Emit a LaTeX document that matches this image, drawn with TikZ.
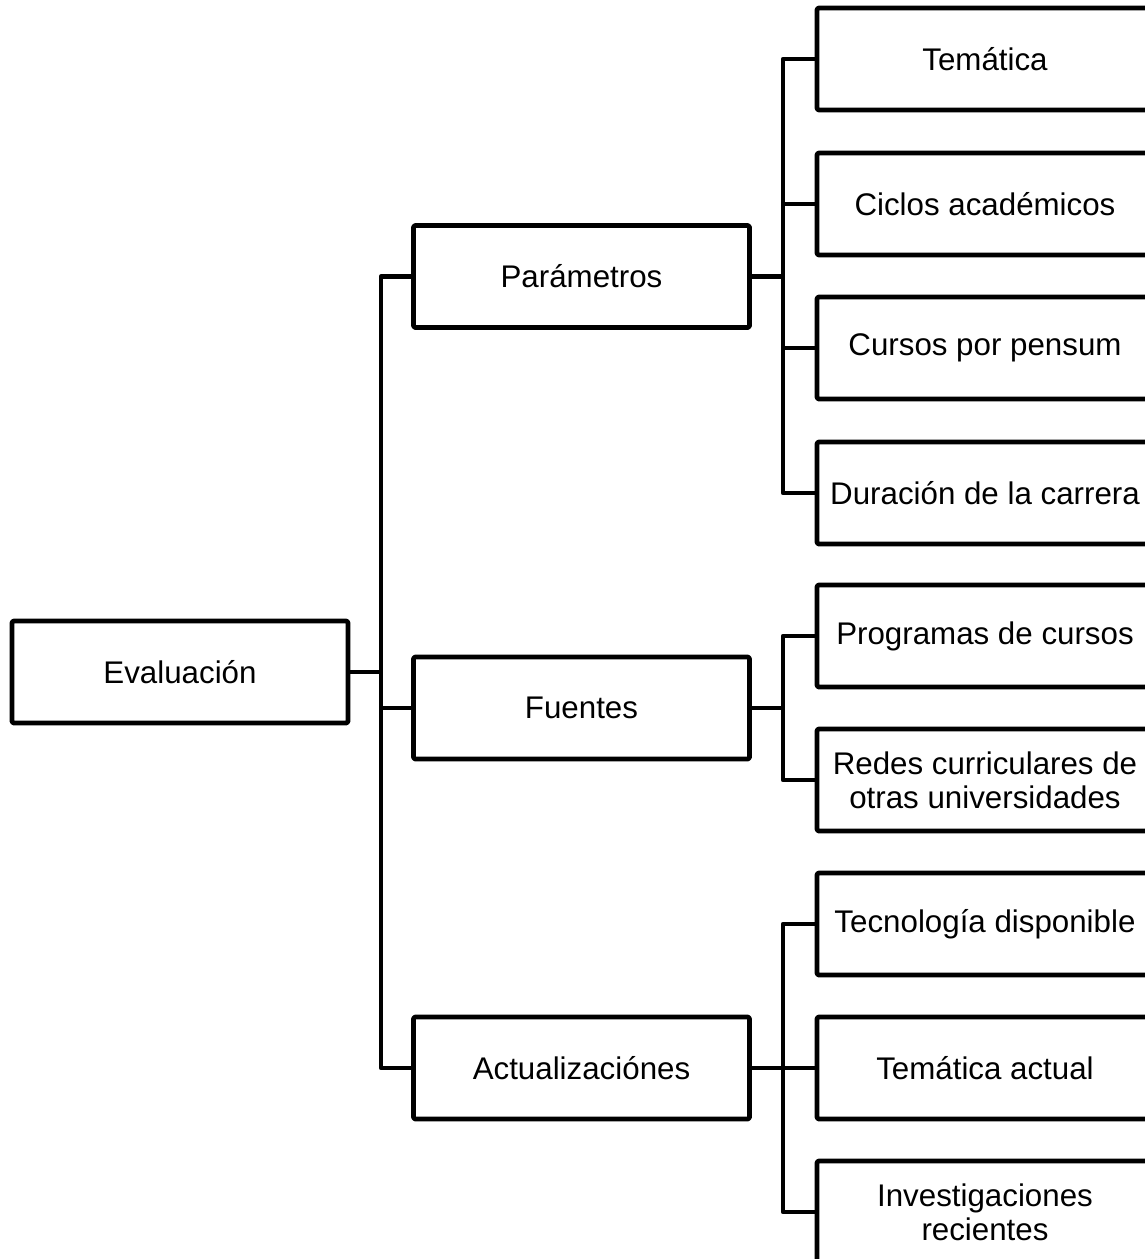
\documentclass[tikz,border=0pt]{standalone}
\usepackage{fontspec}
\setmainfont{Liberation Sans}
\begin{document}
\begin{tikzpicture}[x=1pt,y=-1pt,
  box/.style={draw=black,line width=4.7pt,line join=round,rounded corners=1.5pt,
    minimum width=336pt,minimum height=102pt,inner sep=0pt,align=center,
    font=\fontsize{31.3}{34}\selectfont},
  conn/.style={draw=black,line width=4.7pt,line join=round}]
\useasboundingbox (0,0) rectangle (1145,1259);
\node[box] (eval) at (180,672) {Evaluación};
\node[box] (param) at (581.5,276.5) {Parámetros};
\node[box] (fuen) at (581.5,708) {Fuentes};
\node[box] (actu) at (581.5,1068) {Actualizaciónes};
\node[box] (tem) at (985,59) {Temática};
\node[box] (cic) at (985,204) {Ciclos académicos};
\node[box] (cur) at (985,348) {Cursos por pensum};
\node[box] (dur) at (985,493) {Duración de la carrera};
\node[box] (prog) at (985,636) {Programas de cursos};
\node[box] (red) at (985,780) {Redes curriculares de\\otras universidades};
\node[box] (tec) at (985,924) {Tecnología disponible};
\node[box] (tact) at (985,1068) {Temática actual};
\node[box] (inv) at (985,1212) {Investigaciones\\recientes};
\coordinate (t1) at (381,0);
\coordinate (t2) at (783,0);
% level 1
\draw[conn] (eval.east) -- (eval.east -| t1);
\draw[conn] (param.west) -- (param.west -| t1) -- (actu.west -| t1) -- (actu.west);
\draw[conn] (fuen.west -| t1) -- (fuen.west);
% Parametros
\draw[conn] (param.east) -- (param.east -| t2);
\draw[conn] (tem.west) -- (tem.west -| t2) -- (dur.west -| t2) -- (dur.west);
\draw[conn] (cic.west -| t2) -- (cic.west);
\draw[conn] (cur.west -| t2) -- (cur.west);
% Fuentes
\draw[conn] (fuen.east) -- (fuen.east -| t2);
\draw[conn] (prog.west) -- (prog.west -| t2) -- (red.west -| t2) -- (red.west);
% Actualizaciones
\draw[conn] (actu.east) -- (actu.east -| t2);
\draw[conn] (tec.west) -- (tec.west -| t2) -- (inv.west -| t2) -- (inv.west);
\draw[conn] (tact.west -| t2) -- (tact.west);
\end{tikzpicture}
\end{document}
